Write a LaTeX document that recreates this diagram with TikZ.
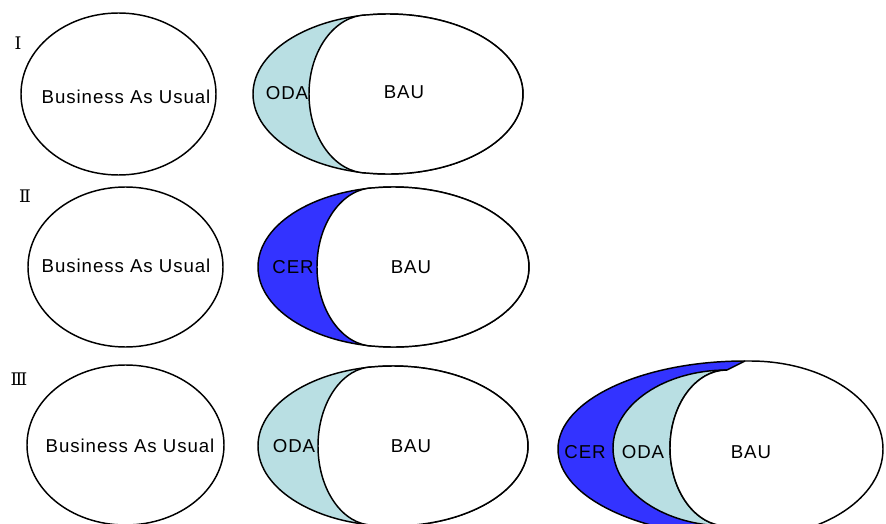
\documentclass[tikz,border=0pt]{standalone}
\usepackage{fontspec}
\setmainfont{Liberation Sans}
\newfontfamily\numfont{DejaVu Serif}
\definecolor{odacol}{HTML}{B9DFE3}
\definecolor{cercol}{HTML}{3333FF}
% #1 cusp x, #2 centre y, #3 big ellipse centre x, #4 big rx, #5 ry, #6 inner rx, #7 colour
\newcommand\mycres[7]{%
  \pgfmathsetmacro\cang{acos((#1-#3)/#4)}%
  \pgfmathsetmacro\cyy{#5*sin(\cang)}%
  \filldraw[outline,fill=#7] (#3,#2) ellipse [x radius=#4, y radius=#5];
  \filldraw[outline,fill=white] (#1,#2+\cyy) arc[start angle=90,end angle=270,x radius=#6,y radius=\cyy]
     arc[start angle=360-\cang,end angle=360+\cang,x radius=#4,y radius=#5] -- cycle;}
\begin{document}
\begin{tikzpicture}[x=0.75pt,y=0.75pt,
  outline/.style={draw=black,line width=1.1pt},
  lbl/.style={inner sep=0pt,font=\fontsize{14}{16}\selectfont\addfontfeature{LetterSpace=5}},
  numlbl/.style={inner sep=0pt,font=\numfont\fontsize{13}{15}\selectfont}]
\useasboundingbox (0,0) rectangle (886,-524);
\clip (0,0) rectangle (886,-524);

% Row I
\draw[outline] (118.5,-94) ellipse [x radius=97.5, y radius=81];
\mycres{367}{-94}{388}{135}{80}{58}{odacol}
\node[numlbl] (n1) at (18,-43) {Ⅰ};
\node[lbl] (b1) at (126,-97) {Business As Usual};
\node[lbl] (oda1) at (287,-93) {ODA};
\node[lbl] (bau1) at (404,-92) {BAU};

% Row II
\draw[outline] (125.5,-267) ellipse [x radius=97.5, y radius=80];
\mycres{374}{-267}{393.5}{135.5}{80}{57}{cercol}
\node[numlbl] (n2) at (25,-196) {Ⅱ};
\node[lbl] (b2) at (126,-266) {Business As Usual};
\node[lbl] (cer2) at (293,-267) {CER};
\node[lbl] (bau2) at (411,-267) {BAU};

% Row III
\draw[outline] (125.5,-445) ellipse [x radius=98.5, y radius=80];
\mycres{373}{-446}{393}{135}{80}{55}{odacol}
\node[numlbl] (n3) at (19,-379) {Ⅲ};
\node[lbl] (b3) at (130,-446) {Business As Usual};
\node[lbl] (oda3) at (294,-446) {ODA};
\node[lbl] (bau3) at (411,-446) {BAU};

% Row III combined
\fill[cercol] (745,-361) arc[start angle=90,end angle=270,x radius=187,y radius=88] -- cycle;
\draw[outline] (745,-361) arc[start angle=90,end angle=270,x radius=187,y radius=88];
\filldraw[outline,fill=odacol] (727,-370) arc[start angle=90,end angle=270,x radius=114,y radius=78]
   arc[start angle=270,end angle=90,x radius=57,y radius=78] -- cycle;
\filldraw[outline,fill=white] (727,-370) arc[start angle=90,end angle=270,x radius=57,y radius=78]
   -- (750,-537) arc[start angle=-90,end angle=90,x radius=133,y radius=88] -- (745,-361) -- cycle;
\node[lbl] (cer4) at (585,-452) {CER};
\node[lbl] (oda4) at (643,-452) {ODA};
\node[lbl] (bau4) at (751,-452) {BAU};
\end{tikzpicture}
\end{document}
